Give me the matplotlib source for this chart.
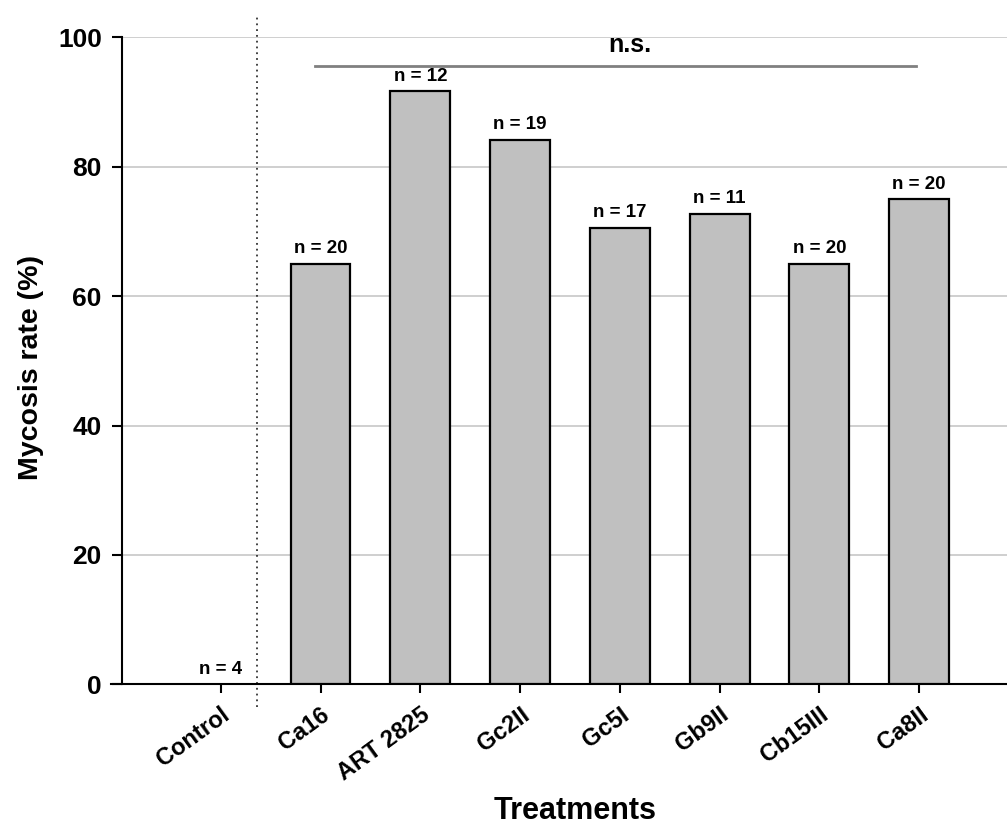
import matplotlib
matplotlib.use("Agg")
import matplotlib.pyplot as plt

categories = ["Control", "Ca16", "ART 2825", "Gc2II", "Gc5I", "Gb9II", "Cb15III", "Ca8II"]
mycosis_rate = [0.0, 65.0, 91.7, 84.2, 70.6, 72.7, 65.0, 75.0]
n_labels = ["n = 4", "n = 20", "n = 12", "n = 19", "n = 17", "n = 11", "n = 20", "n = 20"]
yticks = [0, 20, 40, 60, 80, 100]
ns_text = "n.s."
ns_y = 95.6
ns_x_range = (0.94, 6.97)
ns_text_x = 4.1
divider_x = 0.36

plt.rcParams['font.family'] = ['Liberation Sans', 'DejaVu Sans']
plt.rcParams['font.weight'] = 'bold'

fig = plt.figure(figsize=(10.07, 8.25), dpi=100)
ax = fig.add_axes([0.1211, 0.1705, 0.8789, 0.7843])

x = list(range(len(categories)))
ax.set_axisbelow(True)
ax.yaxis.grid(True, color="#cccccc", linewidth=1.3)
ax.bar(x[1:], mycosis_rate[1:], width=0.6, color="#c0c0c0", edgecolor="black", linewidth=1.6, zorder=3)

for xi, v, lab in zip(x, mycosis_rate, n_labels):
    ax.text(xi, v + 1.0, lab, ha="center", va="bottom", fontsize=13.5, fontweight="bold", zorder=4)

ax.set_xlim(-0.99, 7.88)
ax.set_ylim(0, 100)

# divider
ax.plot([divider_x, divider_x], [-3.5, 103.4], linestyle=(0, (1, 2.2)), color="#333333",
        linewidth=1.3, clip_on=False, zorder=2)

# n.s. bracket
ax.plot(list(ns_x_range), [ns_y, ns_y], color="#808080", linewidth=2, zorder=3)
ax.text(ns_text_x, ns_y + 1.3, ns_text, ha="center", va="bottom", fontsize=18, fontweight="bold")

ax.set_yticks(yticks)
ax.set_yticklabels([str(t) for t in yticks], fontsize=19, fontweight="bold")
ax.set_xticks(x)
ax.set_xticklabels(categories, rotation=36, ha="right", va="top", rotation_mode="anchor",
                   fontsize=17, fontweight="bold")
ax.tick_params(axis="both", direction="out", width=1.5, color="black")
ax.tick_params(axis="y", length=7.5, pad=7)
ax.tick_params(axis="x", length=6.5, pad=7)

for s in ["top", "right"]:
    ax.spines[s].set_visible(False)
ax.spines["left"].set_linewidth(1.5)
ax.spines["bottom"].set_linewidth(1.5)
ax.spines["bottom"].set_bounds(-1.1, 7.88)

ax.set_ylabel("Mycosis rate (%)", fontsize=20.5, fontweight="bold")
ax.yaxis.set_label_coords(-0.088, 0.49)
ax.set_xlabel("Treatments", fontsize=22, fontweight="bold")
ax.xaxis.set_label_coords(0.512, -0.173)

fig.savefig("out.png", dpi=100)
